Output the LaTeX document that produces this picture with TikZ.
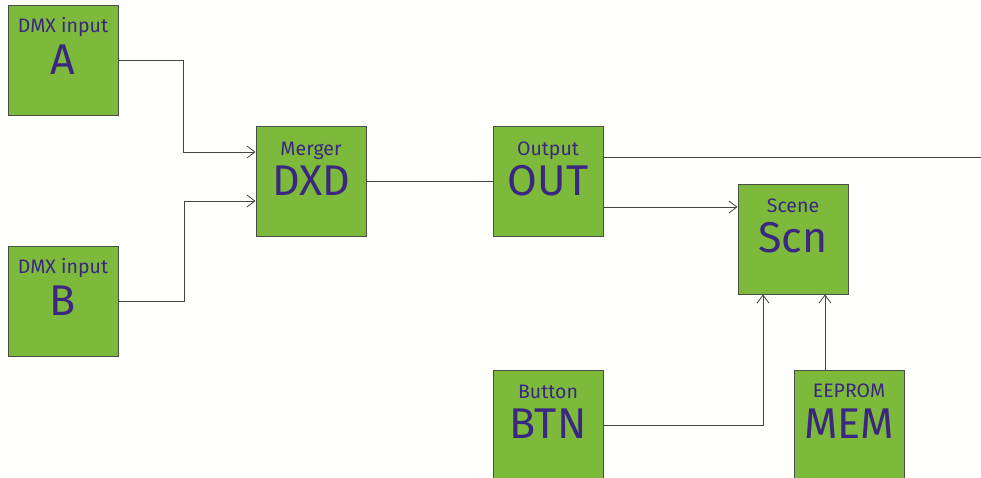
\documentclass[tikz,border=0pt]{standalone}
\usepackage{fontspec}
\setmainfont{Fira Sans}
\usetikzlibrary{arrows.meta}
\definecolor{boxgreen}{HTML}{7DB93A}
\definecolor{boxedge}{HTML}{4A4F45}
\definecolor{txtpurple}{HTML}{3B2782}
\definecolor{wire}{HTML}{444444}
\definecolor{bg}{HTML}{FFFFFD}
\tikzset{
  block/.style={draw=boxedge, fill=boxgreen, line width=0.9pt, minimum width=110pt, minimum height=110pt, inner sep=0pt},
  small/.style={text=txtpurple, anchor=base, inner sep=0pt, font=\fontsize{19.5}{20}\selectfont},
  big/.style={text=txtpurple, anchor=base, inner sep=0pt, font=\fontsize{43}{44}\selectfont},
  wireline/.style={draw=wire, line width=0.8pt},
  arr/.style={wireline, -{Straight Barb[length=8pt,width=12pt,line width=0.8pt]}}
}
\begin{document}
\begin{tikzpicture}[x=1pt,y=1pt]
\fill[bg] (0,0) rectangle (981,477);
\useasboundingbox (0,0) rectangle (981,477);
\begin{scope}
\clip (0,0) rectangle (981,477);
% blocks
\node[block] (A) at (63,417) {};
\node[block] (B) at (63,176) {};
\node[block] (DXD) at (311,295.5) {};
\node[block] (OUT) at (548,295.5) {};
\node[block] (SCN) at (793,238) {};
\node[block] (BTN) at (548,52) {};
\node[block] (MEM) at (849,52) {};
% labels
\node[small] (At) at ([yshift=-28pt]A.north) {DMX input};
\node[big] (Ab) at ([yshift=-70pt]A.north) {A};
\node[small] (Bt) at ([yshift=-28pt]B.north) {DMX input};
\node[big] (Bb) at ([yshift=-70pt]B.north) {B};
\node[small] (DXDt) at ([yshift=-29pt]DXD.north) {Merger};
\node[big] (DXDb) at ([yshift=-69pt]DXD.north) {DXD};
\node[small] (OUTt) at ([yshift=-29pt]OUT.north) {Output};
\node[big] (OUTb) at ([yshift=-69pt]OUT.north) {OUT};
\node[small] (SCNt) at ([yshift=-29pt]SCN.north) {Scene};
\node[big] (SCNb) at ([yshift=-69pt]SCN.north) {Scn};
\node[small] (BTNt) at ([yshift=-29pt]BTN.north) {Button};
\node[big] (BTNb) at ([yshift=-69pt]BTN.north) {BTN};
\node[small] (MEMt) at ([yshift=-28pt]MEM.north) {EEPROM};
\node[big] (MEMb) at ([yshift=-69pt]MEM.north) {MEM};
% connector points
\coordinate (dxdin1) at ([yshift=29.5pt]DXD.west);
\coordinate (dxdin2) at ([yshift=-19.5pt]DXD.west);
\coordinate (outr1) at ([yshift=24.5pt]OUT.east);
\coordinate (outr2) at ([yshift=-25.5pt]OUT.east);
\coordinate (edge) at (981,320);
\coordinate (scnin) at ([yshift=32pt]SCN.west);
\coordinate (scnb1) at ([xshift=-30pt]SCN.south);
\coordinate (scnb2) at ([xshift=32pt]SCN.south);
% connectors
\draw[arr] (A.east) -- (183,417) |- (dxdin1);
\draw[arr] (B.east) -- (184,176) |- (dxdin2);
\draw[wireline] (DXD.east) -- (OUT.west);
\draw[wireline] (outr1) -- (edge);
\draw[arr] (outr2) -- (scnin);
\draw[arr] (BTN.east) -| (scnb1);
\draw[arr] (scnb2 |- MEM.north) -- (scnb2);
\end{scope}
\end{tikzpicture}
\end{document}
